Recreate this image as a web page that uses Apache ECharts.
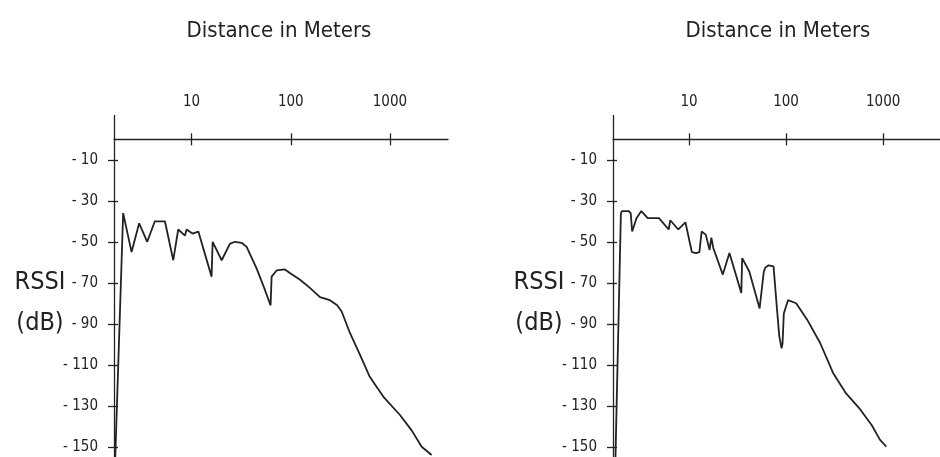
<!DOCTYPE html>
<html>
<head>
<meta charset="utf-8">
<title>RSSI vs distance</title>
<script src="https://cdn.jsdelivr.net/npm/echarts@6.0.0/dist/echarts.min.js"></script>
<style>
  html, body { margin: 0; padding: 0; background: #fff; }
  #chart { width: 940px; height: 457px; }
</style>
</head>
<body>
<div id="chart"></div>
<script>
// distances in meters (log axis) and RSSI in dB
const leftDist = [1.70, 2.04, 2.48, 2.96, 3.57, 4.26, 5.38, 6.53, 7.33, 8.57, 8.9, 10.2, 11.7, 15.9, 16.3, 20.1, 24.3, 27.3, 31.9, 35.9, 45.2, 54.9, 62.6, 64.1, 72, 87.3, 99.6, 124, 156, 197, 248, 294, 326, 395, 498, 628, 856, 1262, 1656, 2089, 2633]
const leftRssi = [-155, -36, -55, -41, -50, -40, -40, -59, -44, -47, -44, -46, -45, -67, -50, -59, -51, -50, -50.5, -52.5, -63, -73.5, -81, -67, -64, -63.5, -65.5, -68.5, -72.5, -77, -78.5, -81, -84, -94.5, -105, -116, -125.5, -134.5, -142, -150, -154]

const rightDist = [1.75, 1.99, 2.04, 2.38, 2.51, 2.60, 2.88, 3.23, 3.76, 4.91, 6.18, 6.42, 7.77, 9.19, 10.7, 11.8, 12.8, 13.5, 14.9, 16.3, 17.0, 17.8, 22.3, 26.1, 34.6, 35.3, 41.8, 53.4, 59, 61.3, 66.2, 74.3, 80.2, 85.1, 89.9, 92, 94.8, 104.7, 127, 165, 225, 305, 415, 563, 764, 925, 1079]
const rightRssi = [-155, -36, -35, -35, -36, -45, -38.5, -35, -38.5, -38.5, -44, -39.5, -44, -40.5, -55, -55.5, -55, -45, -46.5, -54, -48, -53, -66, -55.5, -75, -58, -64.5, -82.5, -64.5, -62.5, -61.5, -62, -81.5, -96, -102, -99.5, -85, -78.5, -80, -88, -99.5, -114, -124, -131, -139.5, -146.5, -150]

const xTicks = [10, 100, 1000]
const yTicks = [-10, -30, -50, -70, -90, -110, -130, -150]

const X_MIN = 1.65
const X_MAX = 3850
const Y_MIN = -155
const Y_MAX = 6

const FONT = "'DejaVu Sans Condensed', 'Liberation Sans Narrow', 'Arial Narrow', sans-serif"
const INK = '#222'

const grids = [
  { left: 114, top: 127, width: 334, height: 330 },
  { left: 613, top: 127, width: 336, height: 330 }
]

function xAxes (gridIndex) {
  const base = {
    gridIndex,
    type: 'log',
    position: 'top',
    min: X_MIN,
    max: X_MAX,
    splitLine: { show: false }
  }
  return [
    Object.assign({}, base, {
      axisLine: { show: true, lineStyle: { color: INK, width: 1.3 } },
      axisTick: { show: true, inside: false, length: 6, customValues: xTicks, lineStyle: { color: INK, width: 1.3 } },
      axisLabel: {
        customValues: xTicks,
        margin: 17,
        color: INK,
        fontFamily: FONT,
        fontSize: 15,
        formatter (v) {
          return String(v)
        }
      }
    }),
    Object.assign({}, base, {
      axisLine: { show: false },
      axisTick: { show: true, inside: true, length: 6, customValues: xTicks, lineStyle: { color: INK, width: 1.3 } },
      axisLabel: { show: false }
    }),
    // the y axis line pokes up above the top axis
    Object.assign({}, base, {
      axisLine: { show: false },
      axisTick: { show: true, inside: false, length: 12, customValues: [X_MIN], lineStyle: { color: INK, width: 1.3 } },
      axisLabel: { show: false }
    })
  ]
}

function yAxes (gridIndex) {
  const base = {
    gridIndex,
    type: 'value',
    position: 'left',
    min: Y_MIN,
    max: Y_MAX,
    splitLine: { show: false }
  }
  return [
    Object.assign({}, base, {
      axisLine: { show: true, lineStyle: { color: INK, width: 1.3 } },
      axisTick: { show: true, inside: false, length: 6, customValues: yTicks, lineStyle: { color: INK, width: 1.3 } },
      axisLabel: {
        customValues: yTicks,
        margin: 16,
        color: INK,
        fontFamily: FONT,
        fontSize: 15,
        formatter (v) {
          return '- ' + Math.abs(v)
        }
      }
    }),
    Object.assign({}, base, {
      axisLine: { show: false },
      axisTick: { show: true, inside: true, length: 4, customValues: yTicks, lineStyle: { color: INK, width: 1.3 } },
      axisLabel: { show: false }
    })
  ]
}

function pairs (xs, ys) {
  return xs.map((x, i) => [x, ys[i]])
}

const titleStyle = { color: INK, fontFamily: FONT, fontSize: 22, fontWeight: 'normal' }
const unitStyle = { color: INK, fontFamily: FONT, fontSize: 25, fontWeight: 'normal', lineHeight: 41 }

const option = {
  animation: false,
  backgroundColor: '#fff',
  title: [
    { text: 'Distance in Meters', left: 274, top: 15, textAlign: 'center', textStyle: titleStyle },
    { text: 'Distance in Meters', left: 773, top: 15, textAlign: 'center', textStyle: titleStyle },
    { text: 'RSSI\n(dB)', left: 35, top: 257, textAlign: 'center', textStyle: unitStyle },
    { text: 'RSSI\n(dB)', left: 534, top: 257, textAlign: 'center', textStyle: unitStyle }
  ],
  grid: grids,
  xAxis: xAxes(0).concat(xAxes(1)),
  yAxis: yAxes(0).concat(yAxes(1)),
  series: [
    {
      type: 'line',
      xAxisIndex: 0,
      yAxisIndex: 0,
      data: pairs(leftDist, leftRssi),
      symbol: 'none',
      lineStyle: { color: INK, width: 1.8 }
    },
    {
      type: 'line',
      xAxisIndex: 3,
      yAxisIndex: 2,
      data: pairs(rightDist, rightRssi),
      symbol: 'none',
      lineStyle: { color: INK, width: 1.8 }
    }
  ]
}

const myChart = echarts.init(document.getElementById('chart'))
myChart.setOption(option)
</script>
</body>
</html>
